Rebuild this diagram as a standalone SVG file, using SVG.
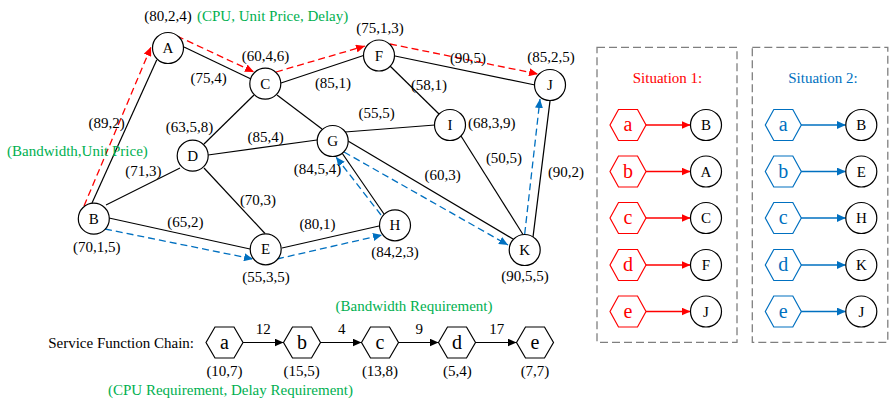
<svg xmlns="http://www.w3.org/2000/svg" width="890" height="402" viewBox="0 0 890 402">
<style>
text{font-family:"Liberation Serif","Times New Roman",serif;font-size:15px;fill:#000;text-anchor:middle}
.gr{fill:#00B050}
.st{text-anchor:start}
.en{text-anchor:end}
.hl{font-size:20px}
.e{stroke:#000;stroke-width:1.2;fill:none}
.rd{stroke:#FF0000;stroke-width:1.3;stroke-dasharray:7 4;fill:none;marker-end:url(#mr)}
.bd{stroke:#0070C0;stroke-width:1.3;stroke-dasharray:7 4;fill:none;marker-end:url(#mb)}
.ra{stroke:#FF0000;stroke-width:1.3;marker-end:url(#mr)}
.ba{stroke:#0070C0;stroke-width:1.3;marker-end:url(#mb)}
.ka{stroke:#000;stroke-width:1.2;marker-end:url(#mk)}
.n{fill:#fff;stroke:#000;stroke-width:1.2}
.hr{fill:#fff;stroke:#FF0000;stroke-width:1.2}
.hb{fill:#fff;stroke:#0070C0;stroke-width:1.2}
.hk{fill:#fff;stroke:#000;stroke-width:1.2}
.tr{fill:#FF0000}
.tb{fill:#0070C0}
.box{fill:none;stroke:#7F7F7F;stroke-width:1.3;stroke-dasharray:8 4}
</style>
<defs>
<marker id="mr" markerUnits="userSpaceOnUse" markerWidth="10" markerHeight="8" refX="9" refY="4" orient="auto"><path d="M0,0L9,4L0,8z" fill="#FF0000"/></marker>
<marker id="mb" markerUnits="userSpaceOnUse" markerWidth="10" markerHeight="8" refX="9" refY="4" orient="auto"><path d="M0,0L9,4L0,8z" fill="#0070C0"/></marker>
<marker id="mk" markerUnits="userSpaceOnUse" markerWidth="10" markerHeight="8" refX="9" refY="4" orient="auto"><path d="M0,0L9,4L0,8z" fill="#000"/></marker>
<polygon id="hex" points="-18,0 -9.5,-15.5 9.5,-15.5 18,0 9.5,15.5 -9.5,15.5"/>
<polygon id="hexc" points="-18.5,0 -9.5,-15.5 9.5,-15.5 18.5,0 9.5,15.5 -9.5,15.5"/>
</defs>

<g id="connectors">
<line class="e" x1="156.7" y1="60" x2="92" y2="203"/>
<line class="e" x1="184" y1="47" x2="251" y2="79"/>
<line class="e" x1="204" y1="144" x2="254" y2="95"/>
<line class="e" x1="208" y1="155" x2="317" y2="140"/>
<line class="e" x1="180" y1="168" x2="106" y2="205"/>
<line class="e" x1="204" y1="168" x2="265" y2="233.5"/>
<line class="e" x1="109" y1="218" x2="250" y2="249"/>
<line class="e" x1="282" y1="248" x2="379" y2="226"/>
<line class="e" x1="342" y1="153" x2="384" y2="214"/>
<line class="e" x1="345" y1="132" x2="435" y2="125"/>
<line class="e" x1="277" y1="95" x2="322" y2="129"/>
<line class="e" x1="281" y1="83" x2="363.5" y2="55.5"/>
<line class="e" x1="395" y1="56" x2="535" y2="85"/>
<line class="e" x1="390" y1="66" x2="439" y2="114"/>
<line class="e" x1="348" y1="141" x2="513" y2="239"/>
<line class="e" x1="461" y1="136" x2="523" y2="234.5"/>
<line class="e" x1="533" y1="237" x2="550" y2="101"/>

<line class="rd" x1="84" y1="206" x2="151" y2="47"/>
<line class="rd" x1="177" y1="36" x2="254" y2="72"/>
<line class="rd" x1="276" y1="72" x2="365" y2="46"/>
<line class="rd" x1="390" y1="44" x2="538" y2="74"/>

<line class="bd" x1="105" y1="229" x2="253" y2="259"/>
<line class="bd" x1="277" y1="259" x2="382" y2="235"/>
<line class="bd" x1="381" y1="215" x2="336" y2="157"/>
<line class="bd" x1="344" y1="152" x2="508" y2="245"/>
<line class="bd" x1="524.7" y1="234" x2="540" y2="99"/>

<line class="ka" x1="243" y1="342.5" x2="283.5" y2="342.5"/>
<line class="ka" x1="320.5" y1="342.5" x2="361.5" y2="342.5"/>
<line class="ka" x1="398.5" y1="342.5" x2="438.5" y2="342.5"/>
<line class="ka" x1="475.5" y1="342.5" x2="516.5" y2="342.5"/>

<line class="ra" x1="646" y1="125" x2="690.5" y2="125"/>
<line class="ra" x1="646" y1="171.5" x2="690.5" y2="171.5"/>
<line class="ra" x1="646" y1="218" x2="690.5" y2="218"/>
<line class="ra" x1="646" y1="265" x2="690.5" y2="265"/>
<line class="ra" x1="646" y1="311.5" x2="690.5" y2="311.5"/>
<line class="ba" x1="801" y1="125" x2="845.8" y2="125"/>
<line class="ba" x1="801" y1="171.5" x2="845.8" y2="171.5"/>
<line class="ba" x1="801" y1="218" x2="845.8" y2="218"/>
<line class="ba" x1="801" y1="265" x2="845.8" y2="265"/>
<line class="ba" x1="801" y1="311.5" x2="845.8" y2="311.5"/>
</g>

<g id="edge-labels">
<text x="106.7" y="127.7">(89,2)</text>
<text x="208.7" y="82.7">(75,4)</text>
<text x="143.3" y="176">(71,3)</text>
<text x="265.7" y="142.3">(85,4)</text>
<text x="333" y="88.3">(85,1)</text>
<text x="376.7" y="117.7">(55,5)</text>
<text x="429" y="90">(58,1)</text>
<text x="468" y="63.3">(90,5)</text>
<text x="504" y="163.3">(50,5)</text>
<text x="442.7" y="180">(60,3)</text>
<text x="566" y="176.7">(90,2)</text>
<text x="258" y="205">(70,3)</text>
<text x="185.3" y="226.7">(65,2)</text>
<text x="317.5" y="229.3">(80,1)</text>
<text class="gr st" x="197" y="21">(CPU, Unit Price, Delay)</text>
<text class="gr st" x="7" y="155.7">(Bandwidth,Unit Price)</text>
</g>

<g id="node-A"><circle class="n" cx="168" cy="48" r="15.5"/><text x="168" y="53">A</text><text x="168" y="21">(80,2,4)</text></g>
<g id="node-C"><circle class="n" cx="265.3" cy="83.7" r="15.5"/><text x="265.3" y="88.7">C</text><text x="265.5" y="61">(60,4,6)</text></g>
<g id="node-F"><circle class="n" cx="379" cy="55.5" r="15.5"/><text x="379" y="60.5">F</text><text x="380" y="33.3">(75,1,3)</text></g>
<g id="node-J"><circle class="n" cx="550" cy="85" r="15.5"/><text x="550" y="90">J</text><text x="551" y="61.7">(85,2,5)</text></g>
<g id="node-D"><circle class="n" cx="192.7" cy="155.7" r="15.5"/><text x="192.7" y="160.7">D</text><text x="189.5" y="131.7">(63,5,8)</text></g>
<g id="node-G"><circle class="n" cx="332.7" cy="141" r="15.5"/><text x="332.7" y="146">G</text><text x="317.5" y="174">(84,5,4)</text></g>
<g id="node-I"><circle class="n" cx="450" cy="125" r="15.5"/><text x="450" y="130">I</text><text x="491.7" y="128.3">(68,3,9)</text></g>
<g id="node-B"><circle class="n" cx="93.8" cy="218.7" r="15.5"/><text x="93.8" y="223.7">B</text><text x="96.7" y="251.7">(70,1,5)</text></g>
<g id="node-E"><circle class="n" cx="265.7" cy="249.3" r="15.5"/><text x="265.7" y="254.3">E</text><text x="266" y="281.7">(55,3,5)</text></g>
<g id="node-H"><circle class="n" cx="395" cy="225.3" r="15.5"/><text x="395" y="230.3">H</text><text x="395" y="257.3">(84,2,3)</text></g>
<g id="node-K"><circle class="n" cx="524.7" cy="250" r="15.5"/><text x="524.7" y="255">K</text><text x="525" y="281">(90,5,5)</text></g>

<g id="sfc">
<text class="en" x="194" y="348">Service Function Chain:</text>
<text class="gr" x="414" y="311">(Bandwidth Requirement)</text>
<text class="gr" x="230.5" y="395">(CPU Requirement, Delay Requirement)</text>
<text x="263.3" y="334">12</text>
<text x="341.7" y="334">4</text>
<text x="419.3" y="334">9</text>
<text x="496.7" y="334">17</text>
</g>
<g id="vnf-a"><use href="#hexc" class="hk" x="224.5" y="342.5"/><text class="hl" x="224.5" y="348.5">a</text><text x="224.5" y="376">(10,7)</text></g>
<g id="vnf-b"><use href="#hexc" class="hk" x="302" y="342.5"/><text class="hl" x="302" y="348.5">b</text><text x="301.7" y="376">(15,5)</text></g>
<g id="vnf-c"><use href="#hexc" class="hk" x="380" y="342.5"/><text class="hl" x="380" y="348.5">c</text><text x="380" y="376">(13,8)</text></g>
<g id="vnf-d"><use href="#hexc" class="hk" x="457" y="342.5"/><text class="hl" x="457" y="348.5">d</text><text x="457.3" y="376">(5,4)</text></g>
<g id="vnf-e"><use href="#hexc" class="hk" x="535" y="342.5"/><text class="hl" x="535" y="348.5">e</text><text x="535" y="376">(7,7)</text></g>

<g id="situation-1">
<rect class="box" x="597" y="47.3" width="140" height="295"/>
<text class="tr" x="667.5" y="83.3">Situation 1:</text>
<use href="#hex" class="hr" x="628" y="125"/><text class="hl tr" x="628" y="131">a</text>
<use href="#hex" class="hr" x="628" y="171.5"/><text class="hl tr" x="628" y="177.5">b</text>
<use href="#hex" class="hr" x="628" y="218"/><text class="hl tr" x="628" y="224">c</text>
<use href="#hex" class="hr" x="628" y="265"/><text class="hl tr" x="628" y="271">d</text>
<use href="#hex" class="hr" x="628" y="311.5"/><text class="hl tr" x="628" y="317.5">e</text>
<circle class="n" cx="706" cy="125" r="15.5"/><text x="706" y="130">B</text>
<circle class="n" cx="706" cy="171.5" r="15.5"/><text x="706" y="176.5">A</text>
<circle class="n" cx="706" cy="218" r="15.5"/><text x="706" y="223">C</text>
<circle class="n" cx="706" cy="265" r="15.5"/><text x="706" y="270">F</text>
<circle class="n" cx="706" cy="311.5" r="15.5"/><text x="706" y="316.5">J</text>
</g>

<g id="situation-2">
<rect class="box" x="752.3" y="47.3" width="135.5" height="295"/>
<text class="tb" x="823" y="83.3">Situation 2:</text>
<use href="#hex" class="hb" x="783.3" y="125"/><text class="hl tb" x="783.3" y="131">a</text>
<use href="#hex" class="hb" x="783.3" y="171.5"/><text class="hl tb" x="783.3" y="177.5">b</text>
<use href="#hex" class="hb" x="783.3" y="218"/><text class="hl tb" x="783.3" y="224">c</text>
<use href="#hex" class="hb" x="783.3" y="265"/><text class="hl tb" x="783.3" y="271">d</text>
<use href="#hex" class="hb" x="783.3" y="311.5"/><text class="hl tb" x="783.3" y="317.5">e</text>
<circle class="n" cx="861.3" cy="125" r="15.5"/><text x="861.3" y="130">B</text>
<circle class="n" cx="861.3" cy="171.5" r="15.5"/><text x="861.3" y="176.5">E</text>
<circle class="n" cx="861.3" cy="218" r="15.5"/><text x="861.3" y="223">H</text>
<circle class="n" cx="861.3" cy="265" r="15.5"/><text x="861.3" y="270">K</text>
<circle class="n" cx="861.3" cy="311.5" r="15.5"/><text x="861.3" y="316.5">J</text>
</g>
</svg>
